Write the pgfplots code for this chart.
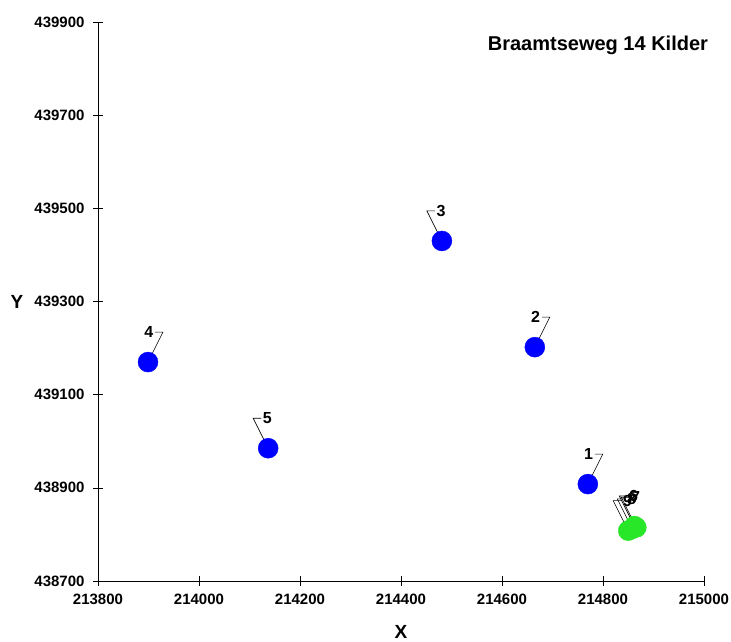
\documentclass[border=0pt]{standalone}
\usepackage{fontspec}
\setmainfont{Liberation Sans}
\usepackage{pgfplots}
\pgfplotsset{compat=1.18}
\definecolor{ptblue}{RGB}{0,0,255}
\definecolor{ptgreen}{RGB}{40,230,40}
\newcommand{\callR}[3]{\draw[black, line width=0.6pt] (axis cs:#1,#2) -- ++(15pt,30pt) -- ++(-8pt,0pt) node[left, inner sep=1.5pt, font=\fontsize{16}{18}\selectfont\bfseries]{#3};}
\newcommand{\callL}[3]{\draw[black, line width=0.6pt] (axis cs:#1,#2) -- ++(-15pt,30pt) -- ++(8pt,0pt) node[right, inner sep=1.5pt, font=\fontsize{16}{18}\selectfont\bfseries]{#3};}
\begin{document}
\begin{tikzpicture}
\begin{axis}[name=ax, scale only axis, width=606pt, height=559pt,
  xmin=213800, xmax=215000, ymin=438700, ymax=439900,
  xtick={213800,214000,...,215000}, ytick={438700,438900,...,439900},
  axis lines=left, axis line style={-, black, line width=0.8pt},
  tick align=center, major tick length=10pt, tick style={black, line width=0.6pt},
  scaled ticks=false,
  /pgf/number format/assume math mode=true,
  /pgf/number format/set thousands separator={},
  /pgf/number format/fixed, /pgf/number format/precision=0,
  ticklabel style={font=\fontsize{15}{18}\selectfont\bfseries},
  xticklabel style={yshift=-5pt},
  yticklabel style={xshift=-5pt},
  clip=false]
\addplot[only marks, mark=*, mark size=10pt, draw=ptblue, fill=ptblue, mark options={draw=ptblue, fill=ptblue}] coordinates {
 (214770,438908) (214665,439202) (214481,439430) (213899,439170) (214137,438985)};
\addplot[only marks, mark=*, mark size=10pt, draw=ptgreen, fill=ptgreen, mark options={draw=ptgreen, fill=ptgreen}] coordinates {
 (214858,438812) (214866,438815) (214850,438808) (214862,438818)};
\callR{214770}{438908}{1}
\callR{214665}{439202}{2}
\callL{214481}{439430}{3}
\callR{213899}{439170}{4}
\callL{214137}{438985}{5}
\callL{214850}{438808}{9}
\callL{214858}{438812}{8}
\callL{214862}{438818}{6}
\callL{214866}{438815}{7}
\node[font=\fontsize{20}{22}\selectfont\bfseries] at (rel axis cs:0.825,0.959) {Braamtseweg 14 Kilder};
\node[font=\fontsize{19}{20}\selectfont\bfseries] at (rel axis cs:0,0.5) [xshift=-81pt] {Y};
\node[font=\fontsize{19}{20}\selectfont\bfseries] at (rel axis cs:0.5,0) [yshift=-51pt] {X};
\end{axis}
\pgfresetboundingbox
\path ([shift={(-98pt,-61pt)}]ax.south west) rectangle ([shift={(27pt,22pt)}]ax.north east);
\end{tikzpicture}
\end{document}
